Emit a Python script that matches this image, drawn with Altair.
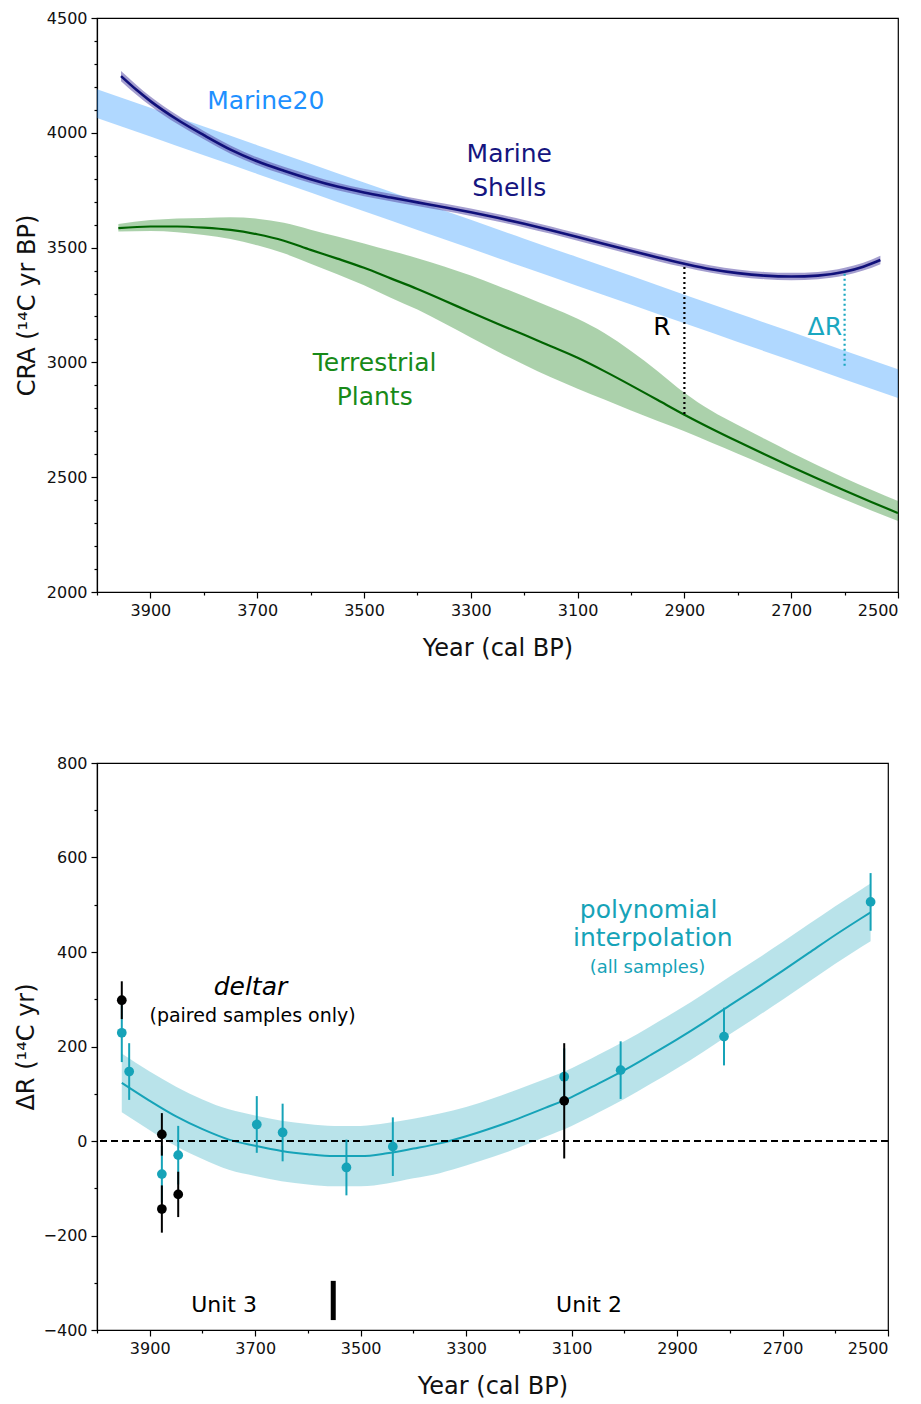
import altair as alt
import pandas as pd

FONT = "DejaVu Sans"

# ---------------- Top panel data ----------------
m20_years = [4000, 3900, 3800, 3700, 3600, 3500, 3400, 3300, 3200, 3100, 3000, 2900, 2800, 2700, 2600, 2500]
m20_upper = [4190, 4109, 4027, 3946, 3865, 3783, 3702, 3621, 3539, 3458, 3377, 3295, 3214, 3133, 3051, 2970]
m20_lower = [4064, 3984, 3902, 3821, 3740, 3658, 3577, 3496, 3414, 3333, 3252, 3170, 3089, 3008, 2926, 2845]

ms_years = [3955, 3925, 3900, 3850, 3800, 3750, 3700, 3650, 3600, 3550, 3500, 3450, 3400, 3350, 3300, 3250,
            3200, 3150, 3100, 3050, 3000, 2950, 2900, 2850, 2800, 2750, 2700, 2650, 2600, 2565, 2533]
ms_mean = [4247, 4185, 4138, 4058, 3990, 3927, 3876, 3835, 3798, 3766, 3740, 3718, 3697, 3676, 3654, 3630,
           3604, 3576, 3546, 3516, 3486, 3457, 3430, 3406, 3389, 3378, 3374, 3378, 3395, 3417, 3446]
ms_err = [22, 21, 20, 19, 18, 18, 17, 17, 17, 16, 16, 16, 16, 16, 16, 16,
          16, 16, 16, 16, 16, 16, 16, 16, 16, 16, 16, 16, 17, 17, 18]

tp_years = [3960, 3900, 3850, 3800, 3750, 3700, 3650, 3600, 3550, 3500, 3450, 3400, 3350, 3300, 3250,
            3200, 3150, 3100, 3050, 3000, 2950, 2900, 2850, 2800, 2750, 2700, 2650, 2600, 2550, 2500]
tp_mean = [3585, 3592, 3592, 3587, 3577, 3558, 3530, 3490, 3452, 3412, 3366, 3320, 3270, 3218, 3168,
           3120, 3070, 3020, 2962, 2900, 2836, 2772, 2712, 2655, 2600, 2546, 2493, 2442, 2392, 2344]
tp_upper = [3603, 3620, 3627, 3629, 3632, 3626, 3608, 3578, 3548, 3518, 3486, 3454, 3418, 3378, 3334,
            3288, 3240, 3190, 3128, 3050, 2962, 2868, 2790, 2727, 2667, 2608, 2551, 2497, 2445, 2396]
tp_lower = [3570, 3572, 3567, 3555, 3537, 3510, 3475, 3430, 3384, 3336, 3282, 3230, 3170, 3108, 3048,
            2990, 2935, 2885, 2838, 2790, 2745, 2700, 2651, 2602, 2552, 2502, 2452, 2403, 2355, 2309]

# annotation lines (R and Delta R)
rule_year = [2900, 2600]
rule_from = [2775, 2985]
rule_to = [3428, 3392]

# ---------------- Bottom panel data ----------------
fit_years = [3953, 3900, 3850, 3800, 3750, 3700, 3650, 3600, 3550, 3500, 3450, 3400, 3350, 3300, 3250,
             3200, 3150, 3100, 3050, 3000, 2950, 2900, 2850, 2800, 2750, 2700, 2650, 2600, 2550, 2533]
fit_mean = [123, 85, 52, 25, 3, -10, -21, -28, -32, -32, -26, -16, -5, 10, 28,
            48, 70, 93, 121, 150, 182, 215, 250, 287, 323, 360, 398, 436, 472, 484]
fit_err = [62, 62, 63, 63, 64, 64, 64, 64, 64, 64, 64, 63, 63, 62, 62,
           62, 61, 61, 61, 61, 61, 61, 61, 61, 61, 61, 61, 61, 61, 61]

cy_years = [3953, 3939, 3877, 3846, 3697, 3648, 3527, 3439, 3114, 3007, 2811, 2533]
cy_vals = [229, 147, -70, -30, 35, 18, -56, -12, 136, 150, 221, 506]
cy_errs = [62, 60, 60, 62, 60, 61, 59, 62, 60, 61, 61, 61]

bk_years = [3953, 3877, 3877, 3846, 3114]
bk_vals = [298, 14, -144, -113, 85]
bk_errs = [40, 45, 50, 48, 122]

unit_bar_year = [3552]
unit_bar_from = [-296]
unit_bar_to = [-379]

# ---------------- helpers ----------------
x_ticks = list(range(2500, 4001, 100))


def x_enc(field="x"):
    return alt.X(
        f"{field}:Q",
        scale=alt.Scale(domain=[2500, 4000], reverse=True, nice=False, zero=False),
        axis=alt.Axis(
            values=x_ticks,
            labelExpr="datum.value % 200 == 100 ? format(datum.value, 'd') : ''",
            tickSize={"condition": {"test": "datum.value % 200 == 100", "value": 6}, "value": 3},
            title="Year (cal BP)",
            titlePadding=18,
            labelPadding=4,
            grid=False,
        ),
    )


def y_enc(field, domain, ticks, major, title, tpad):
    return alt.Y(
        f"{field}:Q",
        scale=alt.Scale(domain=domain, nice=False, zero=False),
        axis=alt.Axis(
            values=ticks,
            labelExpr=f"datum.value % {major} == 0 ? replace(format(datum.value, 'd'), '-', '\u2212') : ''",
            tickSize={"condition": {"test": f"datum.value % {major} == 0", "value": 6}, "value": 3},
            title=title,
            titlePadding=tpad,
            labelPadding=4,
            grid=False,
        ),
    )


# ---------------- Top panel ----------------
top_dom = [2000, 4500]
top_ticks = list(range(2000, 4501, 100))
ytop = lambda f: y_enc(f, top_dom, top_ticks, 500, "CRA (\u00b9\u2074C yr BP)", 7)

m20_df = pd.DataFrame({"x": m20_years, "lo": m20_lower, "hi": m20_upper})
ms_df = pd.DataFrame({"x": ms_years, "m": ms_mean, "lo": [a - b for a, b in zip(ms_mean, ms_err)],
                      "hi": [a + b for a, b in zip(ms_mean, ms_err)]})
tp_df = pd.DataFrame({"x": tp_years, "m": tp_mean, "lo": tp_lower, "hi": tp_upper})
rule_df = pd.DataFrame({"x": rule_year, "lo": rule_from, "hi": rule_to, "kind": ["R", "dR"]})

SM = "monotone"
m20_band = alt.Chart(m20_df).mark_area(color="#1E90FF", opacity=0.35, interpolate=SM).encode(
    x=x_enc(), y=ytop("lo"), y2="hi")
tp_band = alt.Chart(tp_df).mark_area(color="#2e8b2e", opacity=0.4, interpolate=SM).encode(
    x=x_enc(), y=ytop("lo"), y2="hi")
tp_line = alt.Chart(tp_df).mark_line(color="#006400", strokeWidth=2.2, interpolate=SM).encode(
    x=x_enc(), y=ytop("m"))
ms_band = alt.Chart(ms_df).mark_area(color="#5a4fa8", opacity=0.55, interpolate=SM).encode(
    x=x_enc(), y=ytop("lo"), y2="hi")
ms_line = alt.Chart(ms_df).mark_line(color="#10107a", strokeWidth=2.6, interpolate=SM).encode(
    x=x_enc(), y=ytop("m"))
r_rule = alt.Chart(rule_df[rule_df.kind == "R"]).mark_rule(
    color="black", strokeWidth=2.2, strokeDash=[2, 3]).encode(x=x_enc(), y=ytop("lo"), y2="hi")
dr_rule = alt.Chart(rule_df[rule_df.kind == "dR"]).mark_rule(
    color="#1aa7c0", strokeWidth=2.2, strokeDash=[2, 3]).encode(x=x_enc(), y=ytop("lo"), y2="hi")

top_labels = pd.DataFrame({
    "x": [3684, 3228, 3228, 3480, 3480, 2942, 2637],
    "y": [4138, 3908, 3760, 2997, 2849, 3154, 3154],
    "t": ["Marine20", "Marine", "Shells", "Terrestrial", "Plants", "R", "\u0394R"],
    "c": ["#1E90FF", "#15157f", "#15157f", "#188a18", "#188a18", "black", "#1aa7c0"],
})
top_text = alt.Chart(top_labels).mark_text(font=FONT, fontSize=25).encode(
    x=x_enc(), y=ytop("y"), text="t:N", color=alt.Color("c:N", scale=None))

top = alt.layer(m20_band, tp_band, tp_line, ms_band, ms_line, r_rule, dr_rule, top_text).properties(
    width=801, height=574)

# ---------------- Bottom panel ----------------
bot_dom = [-400, 800]
bot_ticks = list(range(-400, 801, 100))
ybot = lambda f: y_enc(f, bot_dom, bot_ticks, 200, "\u0394R (\u00b9\u2074C yr)", 5)

fit_df = pd.DataFrame({"x": fit_years, "m": fit_mean,
                       "lo": [a - b for a, b in zip(fit_mean, fit_err)],
                       "hi": [a + b for a, b in zip(fit_mean, fit_err)]})
cy_df = pd.DataFrame({"x": cy_years, "v": cy_vals,
                      "lo": [a - b for a, b in zip(cy_vals, cy_errs)],
                      "hi": [a + b for a, b in zip(cy_vals, cy_errs)]})
bk_df = pd.DataFrame({"x": bk_years, "v": bk_vals,
                      "lo": [a - b for a, b in zip(bk_vals, bk_errs)],
                      "hi": [a + b for a, b in zip(bk_vals, bk_errs)]})
zero_df = pd.DataFrame({"v": [0]})
unit_df = pd.DataFrame({"x": unit_bar_year, "lo": unit_bar_from, "hi": unit_bar_to})

CYAN = "#16a3b8"
fit_band = alt.Chart(fit_df).mark_area(color=CYAN, opacity=0.3, interpolate=SM).encode(
    x=x_enc(), y=ybot("lo"), y2="hi")
fit_line = alt.Chart(fit_df).mark_line(color=CYAN, strokeWidth=2, interpolate=SM).encode(
    x=x_enc(), y=ybot("m"))
zero_line = alt.Chart(zero_df).mark_rule(color="black", strokeWidth=2, strokeDash=[7, 4]).encode(y=ybot("v"))
cy_err = alt.Chart(cy_df).mark_rule(color=CYAN, strokeWidth=2).encode(x=x_enc(), y=ybot("lo"), y2="hi")
cy_pts = alt.Chart(cy_df).mark_circle(color=CYAN, size=95, opacity=1).encode(x=x_enc(), y=ybot("v"))
bk_err = alt.Chart(bk_df).mark_rule(color="black", strokeWidth=2).encode(x=x_enc(), y=ybot("lo"), y2="hi")
bk_pts = alt.Chart(bk_df).mark_circle(color="black", size=95, opacity=1).encode(x=x_enc(), y=ybot("v"))
unit_bar = alt.Chart(unit_df).mark_rule(color="black", strokeWidth=5).encode(x=x_enc(), y=ybot("lo"), y2="hi")

deltar_df = pd.DataFrame({"x": [3709], "y": [326], "t": ["deltar"]})
paired_df = pd.DataFrame({"x": [3705], "y": [265], "t": ["(paired samples only)"]})
poly_df = pd.DataFrame({"x": [2954, 2946], "y": [489, 430], "t": ["polynomial", "interpolation"]})
alls_df = pd.DataFrame({"x": [2956], "y": [366], "t": ["(all samples)"]})
unit_lab_df = pd.DataFrame({"x": [3759, 3067], "y": [-347, -347], "t": ["Unit 3", "Unit 2"]})

t_deltar = alt.Chart(deltar_df).mark_text(font=FONT, fontSize=25, fontStyle="italic", color="black").encode(
    x=x_enc(), y=ybot("y"), text="t:N")
t_paired = alt.Chart(paired_df).mark_text(font=FONT, fontSize=19, color="black").encode(
    x=x_enc(), y=ybot("y"), text="t:N")
t_poly = alt.Chart(poly_df).mark_text(font=FONT, fontSize=25, color=CYAN).encode(
    x=x_enc(), y=ybot("y"), text="t:N")
t_alls = alt.Chart(alls_df).mark_text(font=FONT, fontSize=18, color=CYAN).encode(
    x=x_enc(), y=ybot("y"), text="t:N")
t_units = alt.Chart(unit_lab_df).mark_text(font=FONT, fontSize=22, color="black").encode(
    x=x_enc(), y=ybot("y"), text="t:N")

bottom = alt.layer(fit_band, fit_line, zero_line, cy_err, cy_pts, bk_err, bk_pts, unit_bar,
                   t_deltar, t_paired, t_poly, t_alls, t_units).properties(width=791, height=567)

chart = alt.vconcat(top, bottom, spacing=93).properties(
    padding={"left": 5, "top": 1, "right": 5, "bottom": 5}
).configure_view(
    stroke="black", strokeWidth=1.2
).configure_axis(
    labelFont=FONT, titleFont=FONT, labelFontSize=16, titleFontSize=24,
    labelColor="#111", titleColor="#111", domainColor="black", tickColor="black",
    domainWidth=1.2, tickWidth=1.2, titleFontWeight="normal"
)

chart.save("out.html", embed_options={"renderer": "svg", "actions": False})
